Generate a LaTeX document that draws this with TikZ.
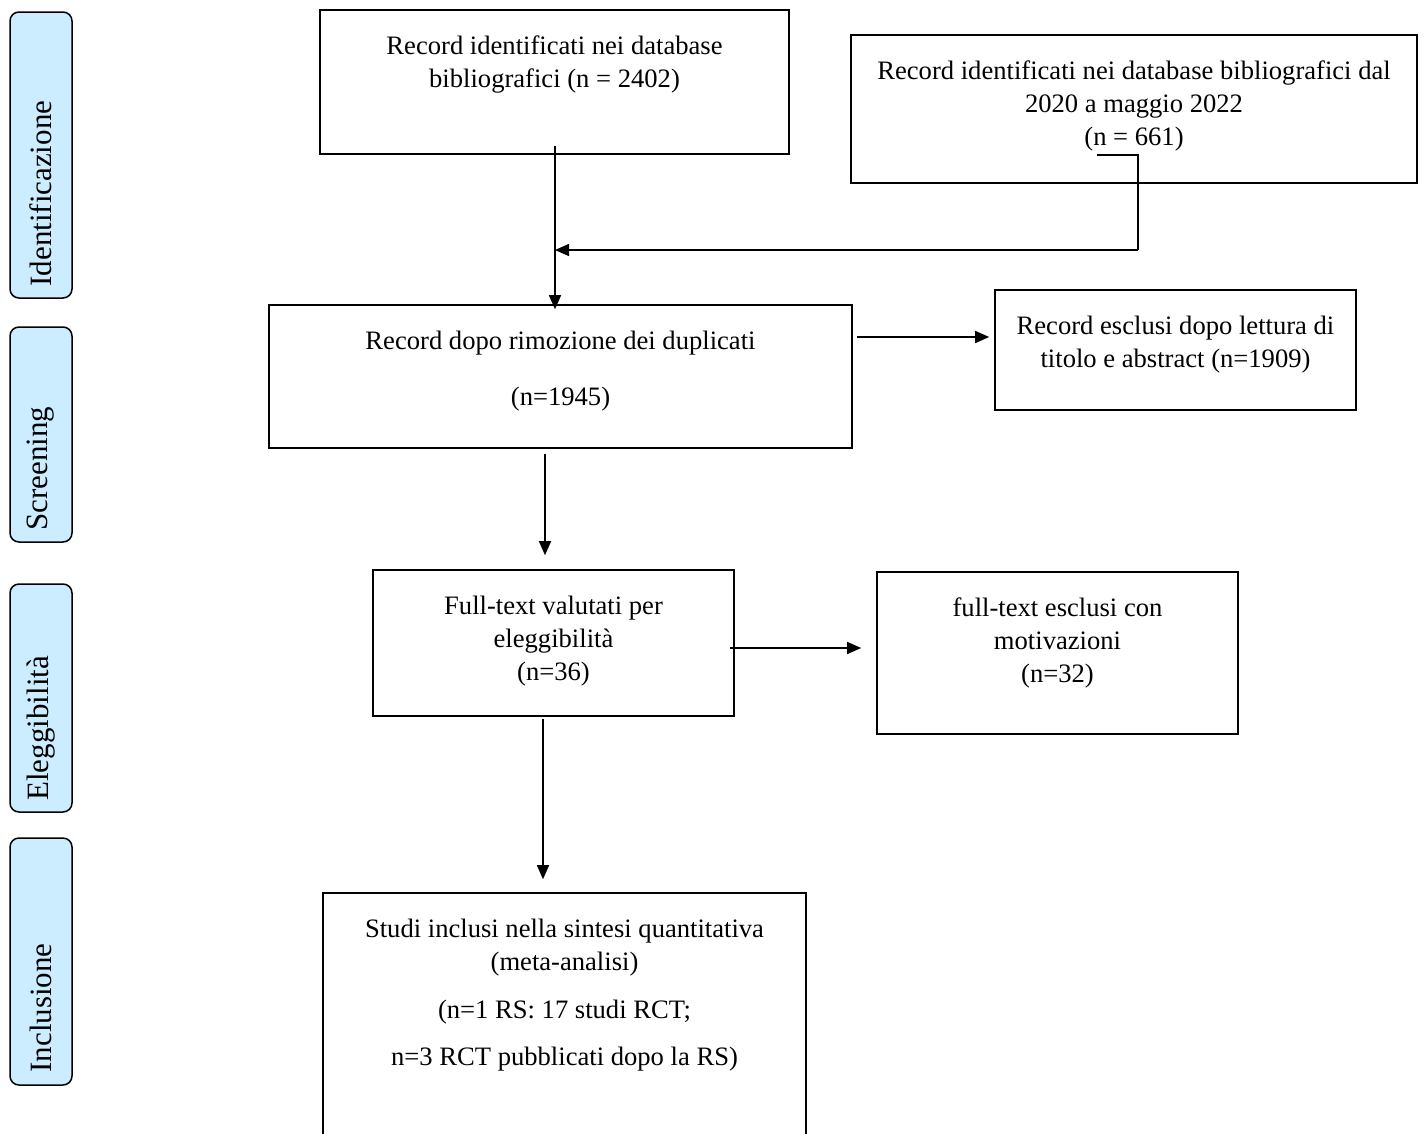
\documentclass[tikz,border=0pt]{standalone}
\usepackage{fontspec}
\setmainfont{Liberation Serif}
\usetikzlibrary{arrows.meta}
\definecolor{phaseblue}{HTML}{CCECFF}
\begin{document}
\begin{tikzpicture}[x=1pt,y=-1pt,
  flowbox/.style={draw=black, line width=1.6pt, inner sep=0pt},
  txt/.style={align=center, inner sep=0pt, anchor=north,
    font=\fontsize{26.6}{33}\selectfont},
  phase/.style={draw=black, line width=1.5pt, fill=phaseblue,
    rounded corners=9pt, inner sep=0pt, minimum width=62pt},
  phasetxt/.style={rotate=90, anchor=west, inner sep=0pt,
    font=\fontsize{31}{36}\selectfont},
  arr/.style={line width=1.5pt, -{Triangle[length=14pt,width=12pt]}},
  plainline/.style={line width=1.5pt}]

\useasboundingbox (0,0) rectangle (1424,1133);
\clip (0,0) rectangle (1424,1133);

% phase labels on the left
\node[phase, minimum height=286pt] (p1) at (41,155) {};
\node[phase, minimum height=215pt] (p2) at (41,434.5) {};
\node[phase, minimum height=228pt] (p3) at (41,698) {};
\node[phase, minimum height=247pt] (p4) at (41,961.5) {};
\node[phasetxt] (pt1) at ([yshift=12pt]p1.south) {Identificazione};
\node[phasetxt] (pt2) at ([yshift=12pt]p2.south) {Screening};
\node[phasetxt] (pt3) at ([yshift=12pt]p3.south) {Eleggibilità};
\node[phasetxt] (pt4) at ([yshift=13pt]p4.south) {Inclusione};

% flow boxes
\node[flowbox, minimum width=469pt, minimum height=144pt] (b1) at (554.5,82) {};
\node[flowbox, minimum width=566pt, minimum height=148pt] (b2) at (1134,109) {};
\node[flowbox, minimum width=583pt, minimum height=143pt] (b3) at (560.5,376.5) {};
\node[flowbox, minimum width=361pt, minimum height=120pt] (b4) at (1175.5,350) {};
\node[flowbox, minimum width=361pt, minimum height=146pt] (b5) at (553.5,643) {};
\node[flowbox, minimum width=361pt, minimum height=162pt] (b6) at (1057.5,653) {};
\node[flowbox, minimum width=483pt, minimum height=260pt] (b7) at (564.5,1023) {};

% box texts
\node[txt] (t1) at ([yshift=-22pt]b1.north)
  {\strut Record identificati nei database\\bibliografici (n = 2402)};
\node[txt] (t2) at ([yshift=-22pt]b2.north)
  {\strut Record identificati nei database bibliografici dal\\2020 a maggio 2022\\(n = 661)};
\node[txt] (t3) at ([yshift=-22pt]b3.north)
  {\strut Record dopo rimozione dei duplicati\\[23pt](n=1945)};
\node[txt] (t4) at ([yshift=-22pt]b4.north)
  {\strut Record esclusi dopo lettura di\\titolo e abstract (n=1909)};
\node[txt] (t5) at ([yshift=-22pt]b5.north)
  {\strut Full-text valutati per\\eleggibilità\\(n=36)};
\node[txt] (t6) at ([yshift=-22pt]b6.north)
  {\strut full-text esclusi con\\motivazioni\\(n=32)};
\node[txt] (t7) at ([yshift=-22pt]b7.north)
  {\strut Studi inclusi nella sintesi quantitativa\\(meta-analisi)\\[15pt](n=1 RS: 17 studi RCT;\\[14pt]n=3 RCT pubblicati dopo la RS)};

% connectors
\coordinate (k1) at (1097,155);
\coordinate (k2) at (1138,250);
\coordinate (r1) at (857,337);
\coordinate (r2) at (730,648);

\draw[arr] ([yshift=9pt]b1.south -| 555,0) -- ([yshift=-5pt]b3.north -| 555,0);
\draw[plainline] (k1) -| (k2);
\draw[arr] (k2) -- (k2 -| 555,0);
\draw[arr, shorten >=5pt] (r1) -- (r1 -| b4.west);
\draw[arr] ([yshift=-5pt]b3.south -| 545,0) -- ([yshift=14pt]b5.north -| 545,0);
\draw[arr, shorten >=15pt] (r2) -- (r2 -| b6.west);
\draw[arr] ([yshift=-2pt]b5.south -| 543,0) -- ([yshift=13pt]b7.north -| 543,0);
\end{tikzpicture}
\end{document}
